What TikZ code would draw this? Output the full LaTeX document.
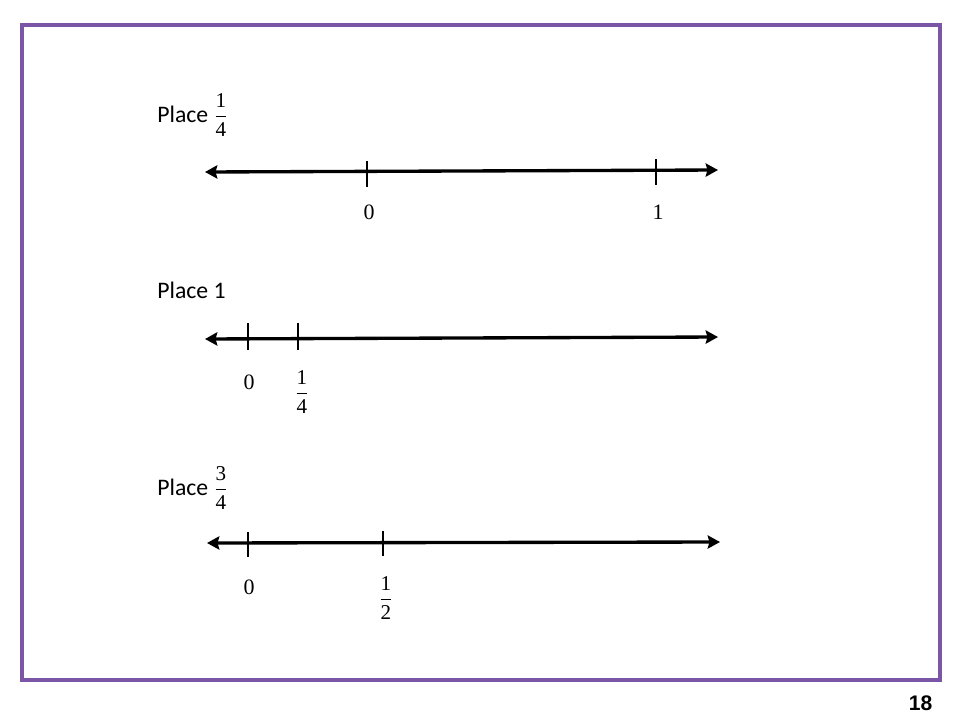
\documentclass[tikz,border=0pt]{standalone}
\usepackage{amsmath}
\usepackage{fontspec}
\setmainfont{Carlito}
\newfontfamily\pagefont{Liberation Sans}
\newfontfamily\digitfont{Liberation Serif}
\usetikzlibrary{arrows.meta}
\definecolor{framepurple}{RGB}{124,86,166}
\tikzset{
  numline/.style={line width=1.9pt,<->},
  tickmark/.style={line width=1.4pt},
  lbl/.style={inner sep=0pt,font=\digitfont\fontsize{12.5}{14}\selectfont},
  placetxt/.style={anchor=base west,inner sep=0pt,font=\fontsize{13.5}{16}\selectfont}
}
\newcommand{\smallfrac}[2]{{\fontsize{12}{14}\selectfont$\dfrac{\hbox{\digitfont #1}}{\hbox{\digitfont #2}}$}}
\begin{document}
\begin{tikzpicture}[x=0.02cm,y=-0.02cm,>={Stealth[length=7pt,width=7.5pt,inset=1pt]}]
\useasboundingbox (0,0) rectangle (960,720);
\draw[framepurple,line width=2.8pt](22,25) rectangle (940,680);
\node[font=\pagefont\bfseries\fontsize{12}{14}\selectfont,inner sep=0pt] (pg) at (920.5,703) {18};

% first line
\node[placetxt] (p1) at (157,122) {Place \smallfrac{1}{4}};
\coordinate (a1) at (205,172);
\coordinate (b1) at (718,170);
\draw[numline](a1)--(b1);
\foreach \x/\y/\n in {367/173/0,656/171/1}
{
    \draw[tickmark](\x,\y-12)--(\x,\y+14);
    \node[lbl] (l1\n) at (\x+2,212) {\n};
}

% second line
\node[placetxt] (p2) at (157,298) {Place 1};
\coordinate (a2) at (205,339);
\coordinate (b2) at (718,337);
\draw[numline](a2)--(b2);
\draw[tickmark](248,323)--(248,350);
\draw[tickmark](298,323)--(298,350);
\node[lbl] (l20) at (249,382) {0};
\node[lbl] (l2q) at (302,392) {\smallfrac{1}{4}};

% third line
\node[placetxt] (p3) at (157,495) {Place \smallfrac{3}{4}};
\coordinate (a3) at (207,543);
\coordinate (b3) at (720,542);
\draw[numline](a3)--(b3);
\draw[tickmark](248,532)--(248,557);
\draw[tickmark](383,531)--(383,556);
\node[lbl] (l30) at (249,587) {0};
\node[lbl] (l3h) at (386,598) {\smallfrac{1}{2}};
\end{tikzpicture}
\end{document}
